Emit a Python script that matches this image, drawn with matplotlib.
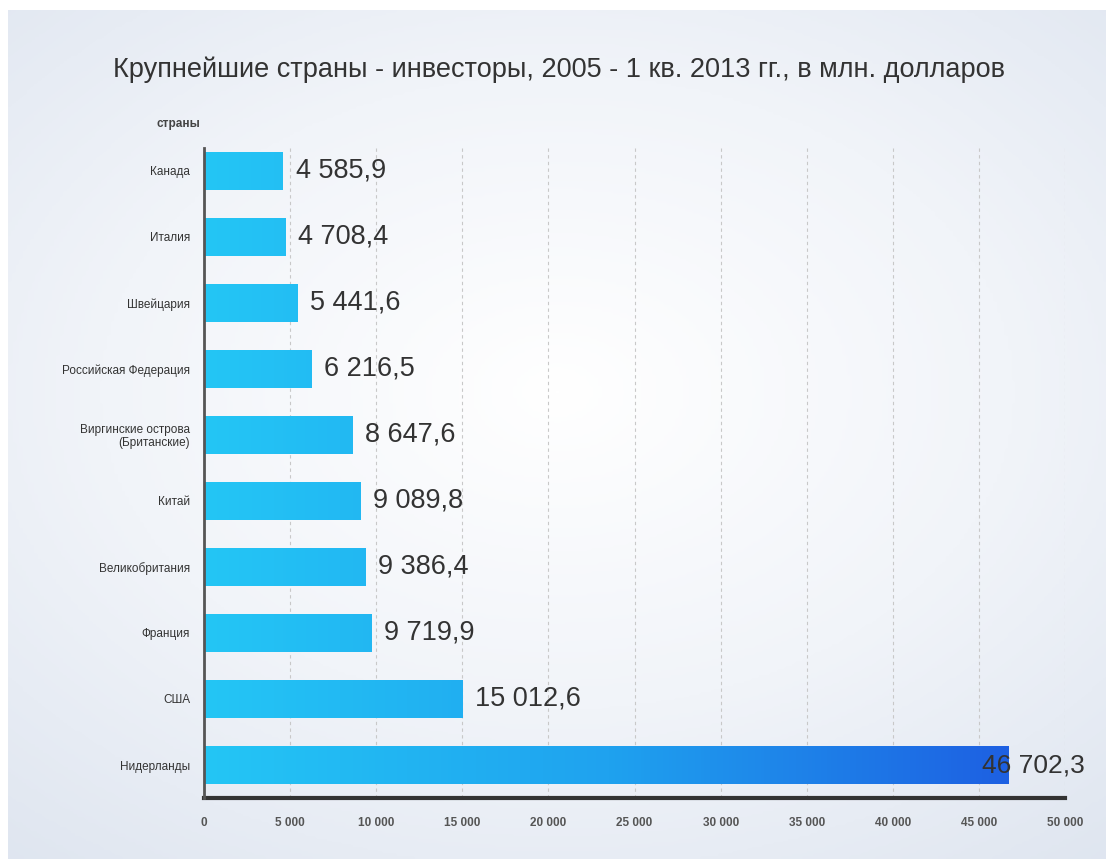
import numpy as np
import matplotlib.pyplot as plt
from matplotlib.colors import LinearSegmentedColormap

# data
countries = ['Нидерланды', 'США', 'Франция', 'Великобритания', 'Китай',
             'Виргинские острова\n(Британские)', 'Российская Федерация',
             'Швейцария', 'Италия', 'Канада']
values = [46702.3, 15012.6, 9719.9, 9386.4, 9089.8,
          8647.6, 6216.5, 5441.6, 4708.4, 4585.9]
xticks = [0, 5000, 10000, 15000, 20000, 25000, 30000, 35000, 40000, 45000, 50000]


def fmt(v, dec=True):
    s = f"{v:,.1f}" if dec else f"{v:,.0f}"
    return s.replace(',', ' ').replace('.', ',')


plt.rcParams['font.family'] = ['Liberation Sans', 'DejaVu Sans']

fig = plt.figure(figsize=(11.06, 8.59), dpi=100)
fig.patch.set_facecolor('white')

# soft background gradient
bg = fig.add_axes([0.007, 0, 0.993, 0.988])
yy, xx = np.mgrid[-1:1:300j, -1:1:300j]
r = np.sqrt((xx * 0.9) ** 2 + (yy + 0.1) ** 2)
bg_cmap = LinearSegmentedColormap.from_list('bg', ['#ffffff', '#f1f4f9', '#dde4ef'])
bg.imshow(r, cmap=bg_cmap, aspect='auto', vmin=0, vmax=1.5)
bg.axis('off')

ax = fig.add_axes([0.1845, 0.071, 0.7785, 0.757])
ax.patch.set_alpha(0)
y = np.arange(len(countries))
bars = ax.barh(y, values, height=0.58, color='#20b8f0', zorder=3)

# gradient fill for bars
grad = np.linspace(0, 1, 256).reshape(1, -1)
bar_cmap = LinearSegmentedColormap.from_list('bar', ['#24c6f5', '#1fa2ef', '#1d5fe2'])
for b in bars:
    im = ax.imshow(grad, cmap=bar_cmap, aspect='auto', extent=[0, 47000, -0.5, 9.35],
                   zorder=4, origin='lower')
    im.set_clip_path(b)
ax.set_xlim(0, 50000)
ax.set_ylim(-0.5, 9.35)

# value labels
for i, v in enumerate(values):
    if v > 40000:
        ax.annotate(fmt(v), (v, i), xytext=(-19, 0), textcoords='offset points',
                    va='center', ha='left', fontsize=19, color='#333333', zorder=6)
    else:
        ax.annotate(fmt(v), (v, i), xytext=(9, 0), textcoords='offset points',
                    va='center', ha='left', fontsize=19.5, color='#333333', zorder=6)

ax.set_xticks(xticks)
ax.set_xticklabels([fmt(t, False) for t in xticks], fontsize=8.5, color='#555555',
                   fontweight='bold')
ax.set_yticks(y)
ax.set_yticklabels(countries, fontsize=8.5, color='#333333', linespacing=1.1)
ax.tick_params(axis='both', length=0)
ax.tick_params(axis='x', pad=14)
ax.tick_params(axis='y', pad=10)

ax.grid(axis='x', linestyle=(0, (3, 3)), color='#c8c8c8', linewidth=0.8, zorder=1)
ax.grid(axis='y', visible=False)

for s in ['top', 'right']:
    ax.spines[s].set_visible(False)
ax.spines['left'].set_color('#555555')
ax.spines['left'].set_linewidth(2)
ax.spines['bottom'].set_color('#333333')
ax.spines['bottom'].set_linewidth(3)
ax.spines['left'].set_zorder(7)

fig.text(0.505, 0.919, 'Крупнейшие страны - инвесторы, 2005 - 1 кв. 2013 гг., в млн. долларов',
         ha='center', va='center', fontsize=19.5, color='#333333')
fig.text(0.181, 0.856, 'страны', ha='right', va='center', fontsize=8.5,
         color='#444444', fontweight='bold')

fig.savefig('out.png', dpi=100)
